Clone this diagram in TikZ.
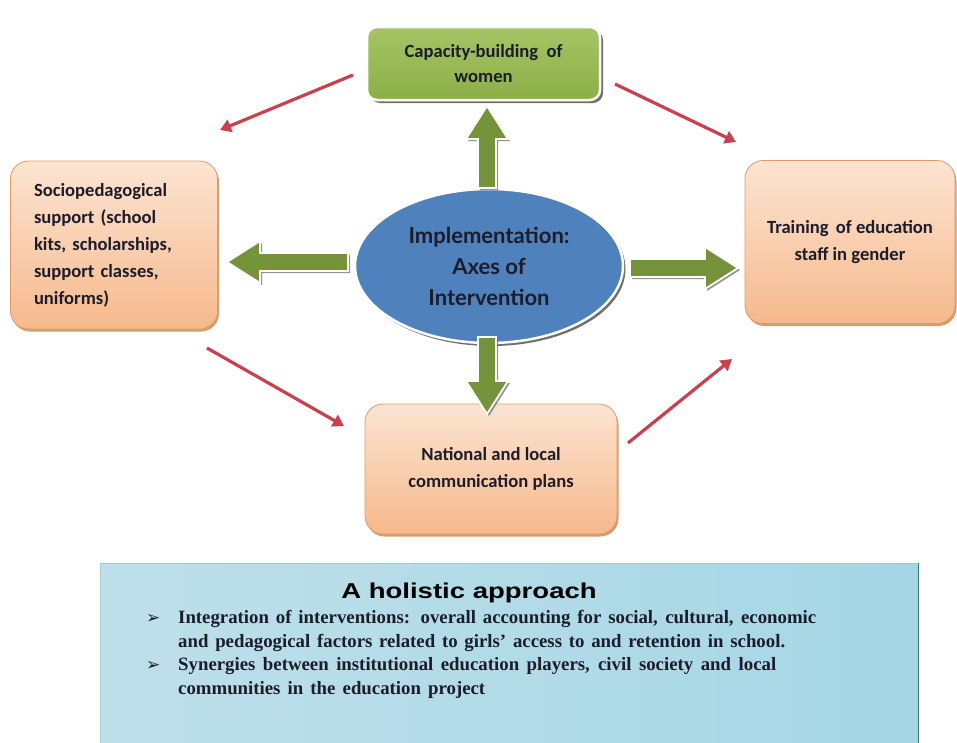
\documentclass[tikz,border=0pt]{standalone}
\usepackage{fontspec}
\usepackage{graphicx}
\setmainfont{Carlito}
\newfontfamily\latof{Lato}
\newfontfamily\arialf{Liberation Sans}
\newfontfamily\timesf{Liberation Serif}
\newfontfamily\dejavuf{DejaVu Sans}
\usetikzlibrary{shapes.geometric,arrows.meta,shadows}
\definecolor{boxtop}{HTML}{FCE4D2}
\definecolor{boxbot}{HTML}{F6B98C}
\definecolor{boxedge}{HTML}{E39B66}
\definecolor{boxshadow}{HTML}{C27434}
\definecolor{greentop}{HTML}{A6C466}
\definecolor{greenbot}{HTML}{8CAF48}
\definecolor{arrgreen}{HTML}{74933A}
\definecolor{ellblue}{HTML}{4F81BD}
\definecolor{redarr}{HTML}{C9404F}
\definecolor{txt}{HTML}{1C1C2A}
\definecolor{panl}{HTML}{BEE0EA}
\definecolor{panm}{HTML}{DDF0F5}
\definecolor{panr}{HTML}{A5D6E5}
\definecolor{panedge}{HTML}{3C7482}
\newcommand\greenarrow[4]{%
  \begin{scope}[shift={(#1,#2)},rotate=#3]
    \draw[blockarr] (0,-9) -- ({#4-33},-9) -- ({#4-33},-21) -- (#4,0)
      -- ({#4-33},21) -- ({#4-33},9) -- (0,9) -- cycle;
  \end{scope}}
\tikzset{
  obox/.style={rounded corners=18pt, draw=boxedge, line width=0.8pt,
    top color=boxtop, bottom color=boxbot,
    drop shadow={shadow xshift=1.5pt, shadow yshift=-2.5pt, fill=boxshadow, opacity=.7},
    text=txt, font=\fontsize{18.6}{27}\selectfont\bfseries, align=center},
  gbox/.style={rounded corners=10pt, draw=white, line width=2.5pt,
    top color=greentop, bottom color=greenbot,
    drop shadow={shadow xshift=3pt, shadow yshift=-3pt, fill=black!70, opacity=.8},
    text=txt, font=\fontsize{18.6}{25}\selectfont\bfseries, align=center},
  ell/.style={ellipse, draw=white, line width=2.5pt, fill=ellblue,
    drop shadow={shadow xshift=2.5pt, shadow yshift=-3pt, fill=black!70, opacity=.8},
    text=txt, font=\fontsize{22}{31}\selectfont\latof\bfseries, align=center, inner sep=0pt},
  blockarr/.style={draw=white, line width=1.8pt, fill=arrgreen, line join=miter,
    drop shadow={shadow xshift=2pt, shadow yshift=-2pt, fill=black!60, opacity=.7}},
  redline/.style={draw=redarr, line width=3.2pt, -{Triangle[length=11pt,width=13pt]}},
  panel/.style={draw=none, inner sep=0pt,
    left color=panl, middle color=panm, right color=panr},
  btxt/.style={anchor=base west, inner sep=0pt, text=txt,
    font=\fontsize{18.8}{23}\selectfont\timesf\bfseries},
  bul/.style={anchor=base west, inner sep=0pt, text=txt,
    font=\fontsize{17}{23}\selectfont\dejavuf\bfseries}
}
\begin{document}
\begin{tikzpicture}[x=1pt,y=-1pt]
\useasboundingbox[fill=white] (0,0) rectangle (957,742);

% bottom panel
\node[panel, minimum width=818pt, minimum height=182pt] (panel) at (509,654) {};
\draw[panedge, line width=1pt] (panel.north east) -- (panel.south east);
\draw[panl!80!panedge, line width=0.6pt] (panel.south west) |- (panel.north east);
\node[anchor=base, inner sep=0pt, text=black, font=\fontsize{21.5}{24}\selectfont\arialf\bfseries]
  (title) at (469,598) {\scalebox{1.28}[1]{A holistic approach}};
\node[bul] (b1) at (146,623) {➢};
\node[bul] (b3) at (146,670) {➢};
\node[btxt] (l1) at (178,623) {\makebox[638pt][s]{Integration of interventions: overall accounting for social, cultural, economic}};
\node[btxt] (l2) at (178,647) {\makebox[607pt][s]{and pedagogical factors related to girls’ access to and retention in school.}};
\node[btxt] (l3) at (178,670) {\makebox[598pt][s]{Synergies between institutional education players, civil society and local}};
\node[btxt] (l4) at (178,694) {\makebox[307pt][s]{communities in the education project}};

% boxes
\node[gbox, minimum width=233pt, minimum height=73pt] (cap) at (483.5,63.5)
  {Capacity-building\ \ of\\women};
\node[obox, minimum width=207pt, minimum height=168pt, text width=160pt, align=left] (socio) at (114,245)
  {Sociopedagogical\\support (school\\kits, scholarships,\\support classes,\\uniforms)};
\node[obox, minimum width=210pt, minimum height=163pt] (train) at (850,242)
  {Training\ \,of education\\staff in gender};
\node[obox, minimum width=252pt, minimum height=130pt] (natl) at (491,469)
  {National and local\\communication plans};

% centre ellipse
\node[ell, minimum width=268pt, minimum height=154pt] (impl) at (489,266)
  {Implementation:\\Axes of\\Intervention};

% green block arrows
\greenarrow{487}{188}{90}{82}
\greenarrow{487}{337}{-90}{77}
\greenarrow{348}{262}{180}{121}
\greenarrow{630}{268}{0}{108}

% red arrows
\coordinate (r1s) at (353,75);  \coordinate (r1e) at (220,130);
\coordinate (r2s) at (615,84);  \coordinate (r2e) at (736,142);
\coordinate (r3s) at (207,348); \coordinate (r3e) at (344,426);
\coordinate (r4s) at (628,443); \coordinate (r4e) at (732,359);
\draw[redline] (r1s) -- (r1e);
\draw[redline] (r2s) -- (r2e);
\draw[redline] (r3s) -- (r3e);
\draw[redline] (r4s) -- (r4e);
\end{tikzpicture}
\end{document}
